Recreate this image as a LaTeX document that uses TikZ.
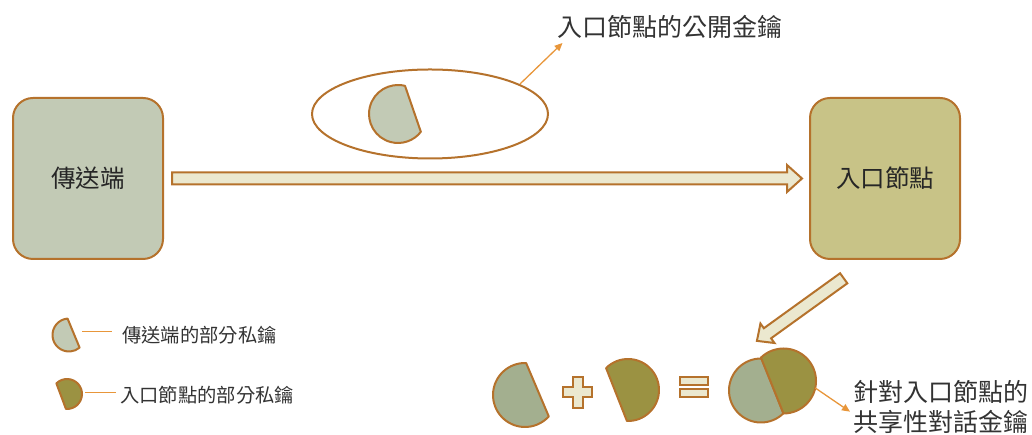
\documentclass[tikz,border=0pt]{standalone}
\usepackage{fontspec}
\newfontfamily\cjk{Noto Sans CJK TC}
\usetikzlibrary{shapes.geometric,arrows.meta,calc}
\definecolor{brd}{HTML}{B5722C}
\definecolor{leadc}{HTML}{E8963A}
\definecolor{sendfill}{HTML}{C2CAB5}
\definecolor{nodefill}{HTML}{C8C387}
\definecolor{arrfill}{HTML}{EBE8CF}
\definecolor{lightpiece}{HTML}{A3AF8F}
\definecolor{darkpiece}{HTML}{9B9242}
\definecolor{txt}{HTML}{333333}
\begin{document}
\begin{tikzpicture}[x=1pt,y=1pt,
  box/.style={draw=brd, line width=2pt, rounded corners=20pt, minimum width=150pt, minimum height=161pt, inner sep=0pt, font=\cjk\fontsize{24.5}{28}\selectfont, text=black!85},
  piece/.style={draw=brd, line width=2pt, line join=round},
  blk/.style={draw=brd, line width=2pt, fill=arrfill, line join=miter},
  leader/.style={draw=leadc, line width=1.3pt},
  leadarrow/.style={leader, -{Triangle[length=8pt,width=7pt]}},
  lbl/.style={font=\cjk\fontsize{25}{30}\selectfont, text=txt, inner sep=0pt, align=left},
  leg/.style={font=\cjk\fontsize{19.3}{24}\selectfont, text=txt, inner sep=0pt}]
\useasboundingbox (0,0) rectangle (1032,435);

% boxes
\node[box, fill=sendfill] (sender) at (88,256.5) {傳送端};
\node[box, fill=nodefill] (entry) at (885,256.5) {入口節點};

% horizontal block arrow
\coordinate (h1) at ($(sender.east)+(8,0)$);
\coordinate (h2) at ($(entry.west)+(-7,0)$);
\draw[blk] ($(h1)+(0,6)$) -- ($(h2)+(-15,6)$) -- ($(h2)+(-15,13.5)$) -- (h2)
  -- ($(h2)+(-15,-13.5)$) -- ($(h2)+(-15,-6)$) -- ($(h1)+(0,-6)$) -- cycle;

% ellipse with public key
\coordinate (ell) at (430,321);
\draw[draw=brd, line width=2pt, line join=round, line cap=round] (ell) ellipse [x radius=118, y radius=44.5];
\coordinate (p0) at (398,321);
\draw[piece, fill=sendfill] ($(p0)+(76:29)$) arc[start angle=76, end angle=322, radius=29] -- cycle;

% title
\node[lbl, anchor=west] (title) at (557,408) {入口節點的公開金鑰};
\coordinate (tt) at (562.5,392);
\coordinate (es) at (520,351);
\draw[leadarrow] (es) -- (tt);

% diagonal block arrow
\coordinate (dtail) at (843.7,156.7);
\begin{scope}[shift={(dtail)}, rotate=215.8]
\draw[blk] (0,6.2) -- (94,6.2) -- (94,12) -- (107,0) -- (94,-12) -- (94,-6.2) -- (0,-6.2) -- cycle;
\end{scope}

% legend
\coordinate (l1) at (69,100);
\draw[piece, fill=sendfill] ($(l1)+(95:16.5)$) arc[start angle=95, end angle=310, radius=16.5] -- cycle;
\node[leg, anchor=west] (lt1) at (122,100) {傳送端的部分私鑰};
\coordinate (lg1a) at (82,103.3);
\coordinate (lg1b) at (112,103.3);
\draw[leader] (lg1a) -- (lg1b);

\coordinate (l2) at (67,41);
\draw[piece, fill=darkpiece] ($(l2)+(-94:15)$) arc[start angle=-94, end angle=135, radius=15] -- cycle;
\node[leg, anchor=west] (lt2) at (120,40) {入口節點的部分私鑰};
\coordinate (lg2a) at (85,42.7);
\coordinate (lg2b) at (116,42.7);
\draw[leader] (lg2a) -- (lg2b);

% equation
\coordinate (b1) at (525,40);
\draw[piece, fill=lightpiece] ($(b1)+(88:32)$) arc[start angle=88, end angle=318, radius=32] -- cycle;
\coordinate (pl) at (577.5,42.5);
\draw[blk, line join=miter] ($(pl)+(-5,15.8)$) -- ($(pl)+(5,15.8)$) -- ($(pl)+(5,5)$) -- ($(pl)+(14.2,5)$)
  -- ($(pl)+(14.2,-5)$) -- ($(pl)+(5,-5)$) -- ($(pl)+(5,-15.8)$) -- ($(pl)+(-5,-15.8)$)
  -- ($(pl)+(-5,-5)$) -- ($(pl)+(-14.2,-5)$) -- ($(pl)+(-14.2,5)$) -- ($(pl)+(-5,5)$) -- cycle;
\coordinate (b2) at (628,45);
\draw[piece, fill=darkpiece] ($(b2)+(-92:31)$) arc[start angle=-92, end angle=135, radius=31] -- cycle;
\draw[blk] (680,50) rectangle (708,57.5);
\draw[blk] (680,38) rectangle (708,45.5);

% combined key
\coordinate (lc) at (761,44.5);
\coordinate (dc) at (783.5,54);
\draw[piece, fill=lightpiece] ($(lc)+(89:32)$) arc[start angle=89, end angle=314.4, radius=32] -- cycle;
\draw[piece, fill=darkpiece] ($(dc)+(-90:32.5)$) arc[start angle=-90, end angle=134, radius=32.5] -- cycle;

\node[lbl, anchor=west] (shared) at (853,28.3) {針對入口節點的\\共享性對話金鑰};
\coordinate (st) at (850,23.3);
\draw[leadarrow] ($(dc)+(-12.4:32.5)$) -- (st);
\end{tikzpicture}
\end{document}
